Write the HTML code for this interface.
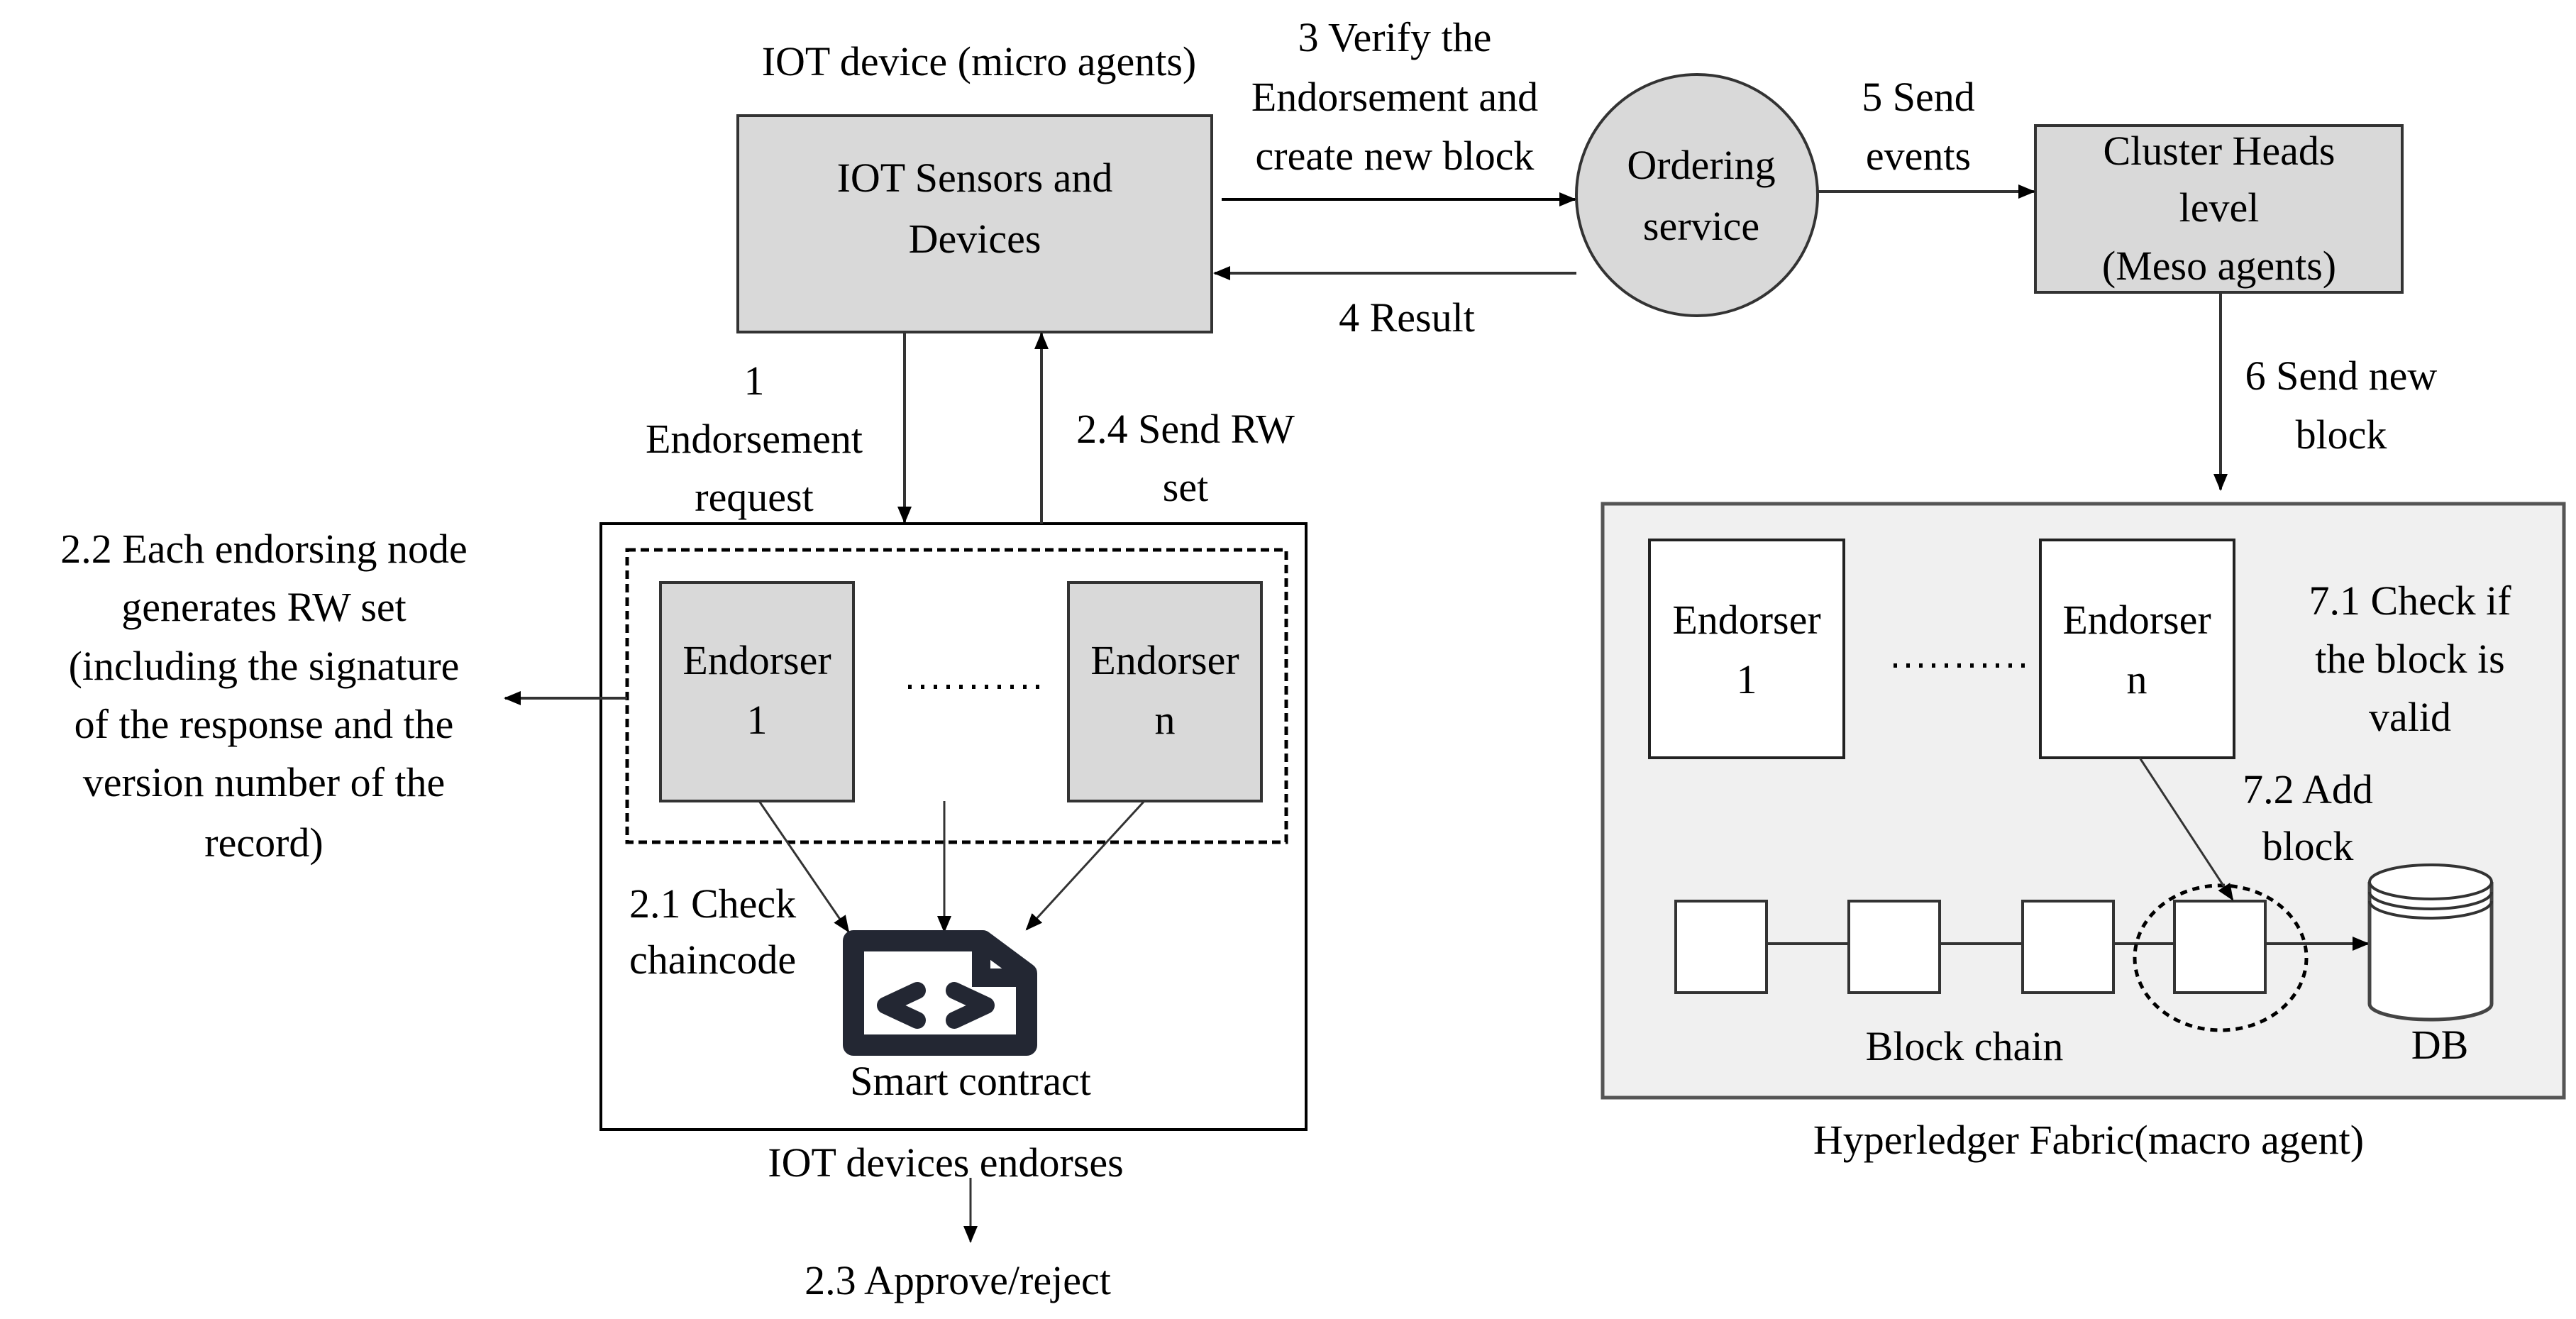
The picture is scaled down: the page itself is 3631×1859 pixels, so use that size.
<!DOCTYPE html>
<html><head><meta charset="utf-8"><style>
html,body{margin:0;padding:0;background:#fff;}
svg{display:block;}
svg text{font-family:"Liberation Serif","Times New Roman","DejaVu Serif",serif;font-size:58px;fill:#000;}
</style></head><body>
<svg width="3631" height="1859" viewBox="0 0 3631 1859" xmlns="http://www.w3.org/2000/svg" font-family="Liberation Serif, DejaVu Serif, serif">
<defs>
<marker id="a" viewBox="0 0 12 10" refX="11" refY="5" markerWidth="24" markerHeight="20" orient="auto" markerUnits="userSpaceOnUse"><path d="M0,0 L12,5 L0,10 z" fill="#000"/></marker>
</defs>
<g stroke="#000" stroke-width="4" fill="none">
<rect x="1040" y="163" width="668" height="305" fill="#d9d9d9" stroke="#333"/>
<circle cx="2392" cy="275" r="170" fill="#d9d9d9" stroke="#333"/>
<rect x="2869" y="177" width="517" height="235" fill="#d9d9d9" stroke="#333"/>
<line x1="1722" y1="281" x2="2220" y2="281" marker-end="url(#a)"/>
<line x1="2222" y1="385" x2="1712" y2="385" marker-end="url(#a)" stroke="#333"/>
<line x1="2563" y1="270" x2="2867" y2="270" marker-end="url(#a)" stroke="#333"/>
<line x1="3130" y1="412" x2="3130" y2="690" marker-end="url(#a)" stroke="#333"/>
<rect x="847" y="738" width="994" height="854" fill="#fff"/>
<rect x="884" y="775" width="929" height="412" stroke-dasharray="12,7" stroke-width="5"/>
<rect x="931" y="821" width="272" height="308" fill="#d9d9d9" stroke="#333"/>
<rect x="1506" y="821" width="272" height="308" fill="#d9d9d9" stroke="#333"/>
<line x1="1280" y1="968" x2="1471" y2="968" stroke-dasharray="5,13" stroke-width="6"/>
<line x1="1275" y1="468" x2="1275" y2="736" marker-end="url(#a)" stroke="#333"/>
<line x1="1468" y1="738" x2="1468" y2="470" marker-end="url(#a)" stroke="#333"/>
<line x1="884" y1="984" x2="712" y2="984" marker-end="url(#a)" stroke="#333"/>
<line x1="1070" y1="1129" x2="1196" y2="1313" marker-end="url(#a)" stroke="#333" stroke-width="3"/>
<line x1="1331" y1="1129" x2="1331" y2="1313" marker-end="url(#a)" stroke="#333" stroke-width="3"/>
<line x1="1613" y1="1129" x2="1447" y2="1310" marker-end="url(#a)" stroke="#333" stroke-width="3"/>
<line x1="1368" y1="1660" x2="1368" y2="1750" marker-end="url(#a)" stroke="#333" stroke-width="3"/>
<path d="M1203,1326 H1385 L1447,1372 V1473 H1203 Z" stroke="#232733" stroke-width="30" stroke-linejoin="round"/>
<path d="M1383,1330 V1378 H1440" stroke="#232733" stroke-width="26"/>
<path d="M1293,1396 L1248,1417 L1293,1438" stroke="#232733" stroke-width="24" stroke-linecap="round" stroke-linejoin="round"/>
<path d="M1345,1396 L1390,1417 L1345,1438" stroke="#232733" stroke-width="24" stroke-linecap="round" stroke-linejoin="round"/>
<rect x="2259" y="710" width="1355" height="837" fill="#f0f0f0" stroke="#555" stroke-width="5"/>
<rect x="2325" y="761" width="274" height="307" fill="#fff" stroke="#222"/>
<rect x="2876" y="761" width="273" height="307" fill="#fff" stroke="#222"/>
<line x1="2669" y1="938" x2="2860" y2="938" stroke-dasharray="5,13" stroke-width="6"/>
<line x1="2362" y1="1330" x2="3340" y2="1330" stroke="#333"/>
<rect x="2362" y="1270" width="128" height="129" fill="#fff" stroke="#333"/>
<rect x="2606" y="1270" width="128" height="129" fill="#fff" stroke="#333"/>
<rect x="2851" y="1270" width="128" height="129" fill="#fff" stroke="#333"/>
<rect x="3065" y="1270" width="128" height="129" fill="#fff" stroke="#333"/>
<line x1="3193" y1="1330" x2="3338" y2="1330" marker-end="url(#a)" stroke="#333"/>
<ellipse cx="3130" cy="1350" rx="121" ry="102" stroke-dasharray="10,8" stroke-width="5"/>
<line x1="3016" y1="1068" x2="3147" y2="1268" marker-end="url(#a)" stroke="#333" stroke-width="3"/>
<path d="M3340,1243 V1415 A86,22 0 0 0 3512,1415 V1243" fill="#fff" stroke="#444" stroke-width="5"/>
<ellipse cx="3426" cy="1243" rx="86" ry="24" fill="#fff" stroke="#333" stroke-width="4"/>
<path d="M3340,1257 A86,24 0 0 0 3512,1257 M3340,1270 A86,24 0 0 0 3512,1270" stroke="#333" stroke-width="4"/>
</g>
<g text-anchor="middle">
<text x="1380" y="106">IOT device (micro agents)</text>
<text x="1374" y="270" font-size="60">IOT Sensors and</text>
<text x="1374" y="356" font-size="60">Devices</text>
<text x="1966" y="72">3 Verify the</text>
<text x="1966" y="156">Endorsement and</text>
<text x="1966" y="239">create new block</text>
<text x="2398" y="252" font-size="60">Ordering</text>
<text x="2398" y="338" font-size="60">service</text>
<text x="1983" y="467">4 Result</text>
<text x="2704" y="156">5 Send</text>
<text x="2704" y="239">events</text>
<text x="3128" y="232">Cluster Heads</text>
<text x="3128" y="312">level</text>
<text x="3128" y="394">(Meso agents)</text>
<text x="3300" y="549">6 Send new</text>
<text x="3300" y="632">block</text>
<text x="1063" y="556">1</text>
<text x="1063" y="638">Endorsement</text>
<text x="1063" y="720">request</text>
<text x="1671" y="624">2.4 Send RW</text>
<text x="1671" y="706">set</text>
<text x="372" y="793">2.2 Each endorsing node</text>
<text x="372" y="875">generates RW set</text>
<text x="372" y="958">(including the signature</text>
<text x="372" y="1040">of the response and the</text>
<text x="372" y="1122">version number of the</text>
<text x="372" y="1207">record)</text>
<text x="1067" y="950" font-size="60">Endorser</text>
<text x="1067" y="1034" font-size="60">1</text>
<text x="1642" y="950" font-size="60">Endorser</text>
<text x="1642" y="1034" font-size="60">n</text>
<text x="1368" y="1543">Smart contract</text>
<text x="1333" y="1658">IOT  devices endorses</text>
<text x="1350" y="1824">2.3 Approve/reject</text>
<text x="2462" y="893" font-size="60">Endorser</text>
<text x="2462" y="977" font-size="60">1</text>
<text x="3012" y="893" font-size="60">Endorser</text>
<text x="3012" y="977" font-size="60">n</text>
<text x="3397" y="866">7.1 Check if</text>
<text x="3397" y="948">the block is</text>
<text x="3397" y="1030">valid</text>
<text x="3253" y="1132">7.2 Add</text>
<text x="3253" y="1212">block</text>
<text x="2769" y="1494">Block chain</text>
<text x="3439" y="1492">DB</text>
<text x="2944" y="1626">Hyperledger Fabric(macro agent)</text>
</g>
<g>
<text x="887" y="1293">2.1 Check</text>
<text x="887" y="1372">chaincode</text>
</g>
</svg>
</body></html>
